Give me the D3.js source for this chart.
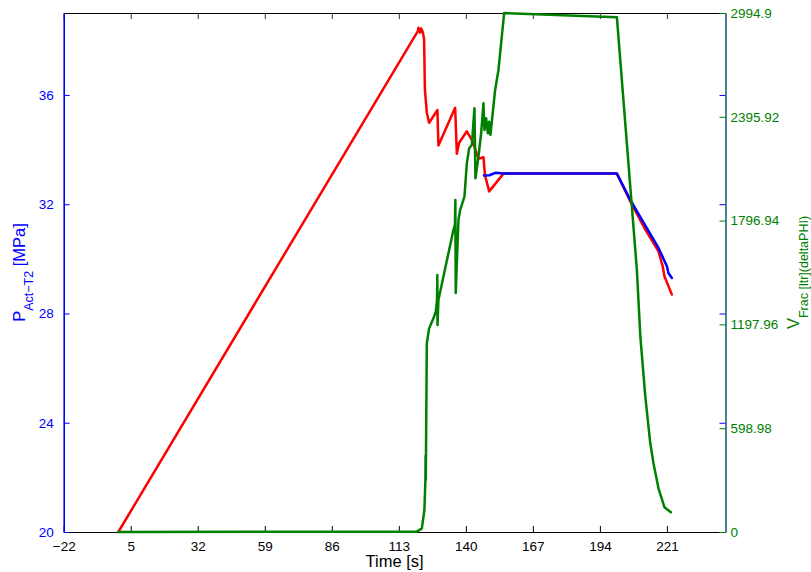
<!DOCTYPE html>
<html>
<head>
<meta charset="utf-8">
<script src="https://cdn.jsdelivr.net/npm/d3@7"></script>
<style>
  body { margin: 0; background: #fff; }
  svg { display: block; }
  text { font-family: "Liberation Sans", Arial, Helvetica, sans-serif; }
</style>
</head>
<body>
<svg id="chart" width="811" height="572"></svg>
<script>
// ---- data ----
const xTicks = [-22, 5, 32, 59, 86, 113, 140, 167, 194, 221];
const leftTicks = [20, 24, 28, 32, 36];
const rightTicks = [0, 598.98, 1197.96, 1796.94, 2395.92, 2994.9];

// red: actual pressure [MPa]
const redT = [0, 120.66, 120.9, 121.58, 121.99, 122.67, 123.19, 123.5, 124.28, 125.21, 128.55, 128.95, 135.69, 136.37, 137.3, 140.4, 142.7, 145.08, 147.09, 147.72, 149.4, 155.15, 200.85, 206.2, 212.3, 217.6, 219.3, 220.0, 223.0];
const redP = [20, 38.34, 38.46, 38.28, 38.43, 38.30, 38.04, 36.2, 35.35, 34.98, 35.45, 34.15, 35.53, 33.85, 34.25, 34.67, 34.31, 33.66, 33.72, 33.05, 32.47, 33.12, 33.12, 32.11, 31.07, 30.27, 29.73, 29.36, 28.69];

// blue: pressure [MPa]
const blueT = [147.3, 149.5, 151.9, 155.15, 200.85, 206.2, 210.9, 217.6, 221.0, 221.6, 223.0];
const blueP = [33.05, 33.06, 33.15, 33.12, 33.12, 32.17, 31.44, 30.40, 29.73, 29.48, 29.30];

// green: fracture volume [ltr]
const greenT = [0, 120.25, 122.27, 123.31, 123.7, 123.78, 123.86, 124.28, 125.21, 126.94, 127.91, 128.39, 128.51, 128.59, 128.95, 135.0, 135.6, 135.77, 135.93, 137.02, 137.7, 139.44, 140.4, 141.33, 142.42, 143.46, 143.87, 145.08, 146.16, 147.09, 147.49, 148.18, 148.86, 149.39, 149.91, 151.8, 153.14, 155.43, 200.85, 208.9, 210.3, 212.3, 214.3, 215.6, 217.6, 220.0, 222.6];
const greenV = [0, 2, 21, 127, 300, 440, 300, 1089, 1175, 1233, 1271, 1339, 1483, 1194, 1339, 1743, 1772, 1916, 1379, 1800, 1858, 1935, 2128, 2214, 2233, 2445, 2041, 2166, 2301, 2474, 2320, 2387, 2301, 2368, 2291, 2551, 2666, 2994.9, 2970, 1512, 1127, 781, 512, 396, 252, 143, 114];

// ---- layout ----
const L = 63.7, R = 725.5, T = 13, B = 532;
const svg = d3.select("#chart");

const x = d3.scaleLinear().domain([-22, 244.6]).range([L, R]);
const yL = d3.scaleLinear().domain([20, 39]).range([B, T]);
const yR = d3.scaleLinear().domain([0, 2994.9]).range([B, T]);

const fs = 13.5;
const tickLen = 6;

// bottom axis
const xAxis = d3.axisBottom(x).tickValues(xTicks).tickSizeInner(-tickLen).tickSizeOuter(0)
  .tickPadding(9).tickFormat(d => d < 0 ? "\u2212" + Math.abs(d) : d);
const gx = svg.append("g").attr("transform", `translate(0,${B})`).call(xAxis);
gx.select(".domain").attr("stroke", "#000").attr("stroke-width", 1);
gx.selectAll(".tick line").attr("stroke", "#000");
gx.selectAll(".tick text").attr("fill", "#000").style("font-size", fs + "px");

// top axis (ticks only)
const xTop = d3.axisTop(x).tickValues(xTicks).tickSizeInner(-tickLen).tickSizeOuter(0).tickFormat("");
const gt = svg.append("g").attr("transform", `translate(0,${T})`).call(xTop);
gt.select(".domain").attr("stroke", "#000").attr("stroke-width", 1);
gt.selectAll(".tick line").attr("stroke", "#333");

// left axis
const yAxisL = d3.axisLeft(yL).tickValues(leftTicks).tickSizeInner(-tickLen).tickSizeOuter(0).tickPadding(10);
const gl = svg.append("g").attr("transform", `translate(${L},0)`).call(yAxisL);
gl.select(".domain").attr("stroke", "#0000ff").attr("stroke-width", 1.6);
gl.selectAll(".tick line").attr("stroke", "#0000ff");
gl.selectAll(".tick text").attr("fill", "#0000ff").style("font-size", fs + "px");

// right side: blue ticks mirrored from the left axis
const yAxisLR = d3.axisRight(yL).tickValues(leftTicks).tickSizeInner(-tickLen).tickSizeOuter(0).tickFormat("");
const glr = svg.append("g").attr("transform", `translate(${R},0)`).call(yAxisLR);
glr.select(".domain").remove();
glr.selectAll(".tick line").attr("stroke", "#0000ff");

// right axis
const yAxisR = d3.axisRight(yR).tickValues(rightTicks).tickSizeInner(-tickLen).tickSizeOuter(0).tickPadding(5)
  .tickFormat(d => d === 0 ? "0" : d3.format("")(d));
const gr = svg.append("g").attr("transform", `translate(${R},0)`).call(yAxisR);
gr.select(".domain").attr("stroke", "#1f5f7a").attr("stroke-width", 1.6);
gr.selectAll(".tick line").attr("stroke", "#008000");
gr.selectAll(".tick text").attr("fill", "#008000").style("font-size", fs + "px");

// ---- lines ----
function drawLine(ts, vs, yScale, color) {
  const pts = ts.map((t, i) => [t, vs[i]]);
  svg.append("path")
    .datum(pts)
    .attr("fill", "none")
    .attr("stroke", color)
    .attr("stroke-width", 2.5)
    .attr("stroke-linejoin", "round")
    .attr("stroke-linecap", "round")
    .attr("d", d3.line().x(d => x(d[0])).y(d => yScale(d[1])));
}
drawLine(redT, redP, yL, "#ff0000");
drawLine(blueT, blueP, yL, "#0000ff");
drawLine(greenT, greenV, yR, "#008000");

// ---- axis labels ----
svg.append("text")
  .attr("x", (L + R) / 2).attr("y", 567)
  .attr("text-anchor", "middle")
  .style("font-size", "16.5px").attr("fill", "#000")
  .text("Time [s]");

const ll = svg.append("text")
  .attr("transform", `translate(25,${(T + B) / 2}) rotate(-90)`)
  .attr("text-anchor", "middle")
  .attr("fill", "#0000ff")
  .style("font-size", "16.5px");
ll.append("tspan").text("P");
ll.append("tspan").attr("dy", 8).style("font-size", "12.5px").text("Act\u2212T2");
ll.append("tspan").attr("dy", -8).text(" [MPa]");

const rl = svg.append("text")
  .attr("transform", `translate(799,${(T + B) / 2}) rotate(-90)`)
  .attr("text-anchor", "middle")
  .attr("fill", "#008000")
  .style("font-size", "16.5px");
rl.append("tspan").text("V");
rl.append("tspan").attr("dy", 9).style("font-size", "12.5px").text("Frac [ltr](deltaPHI)");
</script>
</body>
</html>
